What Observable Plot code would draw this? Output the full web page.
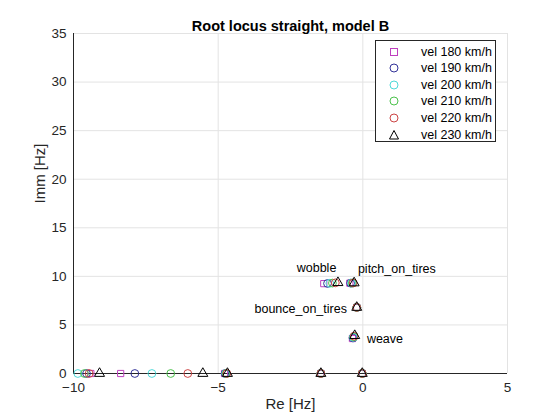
<!DOCTYPE html>
<html>
<head>
<meta charset="utf-8">
<script src="https://cdn.jsdelivr.net/npm/d3@7"></script>
<script src="https://cdn.jsdelivr.net/npm/@observablehq/plot@0.6"></script>
<style>
  html, body { margin: 0; padding: 0; background: #fff; }
  #wrap { position: relative; width: 560px; height: 420px; font-family: "Liberation Sans", Arial, sans-serif; }
  #legend { position: absolute; left: 375px; top: 40px; width: 121px; height: 102px; border: 1px solid #262626; background: #fff; box-sizing: border-box; }
  #legend .row { position: absolute; left: 0; height: 17px; display: flex; align-items: center; font-size: 12.5px; color: #000; }
  #legend svg { margin-left: 12px; margin-right: 21px; }
</style>
</head>
<body>
<div id="wrap"><div id="legend"></div></div>
<script>
// ---- data ----
const velocities = [180, 190, 200, 210, 220, 230];
const legendLabels = ["vel 180 km/h", "vel 190 km/h", "vel 200 km/h", "vel 210 km/h", "vel 220 km/h", "vel 230 km/h"];
// real-axis roots (Im = 0)
const realRootA = [-9.40, -9.55, -9.85, -9.62, -9.46, -9.10];
const realRootB = [-8.37, -7.88, -7.29, -6.64, -6.05, -5.53];
const realRootC = [-4.78, -4.76, -4.74, -4.72, -4.70, -4.68];
const realRootD = [-1.45, -1.45, -1.45, -1.45, -1.45, -1.45];
const realRootE = [-0.02, -0.02, -0.02, -0.02, -0.02, -0.02];
// complex roots
const wobbleRe = [-1.35, -1.22, -1.14, -1.05, -0.95, -0.86];
const wobbleIm = [9.25, 9.27, 9.29, 9.31, 9.33, 9.35];
const pitchRe = [-0.45, -0.42, -0.39, -0.36, -0.33, -0.30];
const pitchIm = [9.30, 9.30, 9.31, 9.31, 9.32, 9.32];
const bounceRe = [-0.21, -0.21, -0.21, -0.21, -0.21, -0.21];
const bounceIm = [6.80, 6.80, 6.80, 6.80, 6.80, 6.80];
const weaveRe = [-0.36, -0.34, -0.33, -0.31, -0.30, -0.28];
const weaveIm = [3.60, 3.66, 3.72, 3.78, 3.84, 3.90];
// mode annotations
const modeNames = ["wobble", "pitch_on_tires", "bounce_on_tires", "weave"];
const modeRe = [-1.6, -0.17, -0.55, 0.14];
const modeIm = [10.9, 10.8, 6.6, 3.6];
const xTicks = [-10, -5, 0, 5];
const yTicks = [0, 5, 10, 15, 20, 25, 30, 35];

// ---- styles ----
const colors = ["#bf40bf", "#333399", "#4dd9d9", "#4cc24c", "#cc4444", "#000000"];
const symbols = ["square", "circle", "circle", "circle", "circle", "triangle"];

// ---- build table ----
const pts = [];
velocities.forEach((v, i) => {
  const add = (re, im) => pts.push({vel: v, idx: i, re, im});
  add(realRootA[i], 0);
  add(realRootB[i], 0);
  add(realRootC[i], 0);
  add(realRootD[i], 0);
  add(realRootE[i], 0);
  add(wobbleRe[i], wobbleIm[i]);
  add(pitchRe[i], pitchIm[i]);
  add(bounceRe[i], bounceIm[i]);
  add(weaveRe[i], weaveIm[i]);
});
const modes = modeNames.map((n, i) => ({name: n, re: modeRe[i], im: modeIm[i]}));

const dotMarks = velocities.map((v, i) =>
  Plot.dot(pts.filter(d => d.idx === i), {
    x: "re", y: "im", symbol: () => symbols[i], stroke: colors[i],
    r: symbols[i] === "square" ? 3.5 : symbols[i] === "triangle" ? 3.7 : 3.9,
    strokeWidth: 1, fill: "none"
  })
);

const chart = Plot.plot({
  width: 560,
  height: 420,
  marginLeft: 73,
  marginRight: 53,
  marginTop: 33,
  marginBottom: 47,
  style: {fontFamily: "'Liberation Sans', Arial, sans-serif", fontSize: "13px", color: "#262626", background: "#fff"},
  symbol: {type: "identity"},
  x: {domain: [-10, 5]},
  y: {domain: [0, 35]},
  marks: [
    Plot.gridX(xTicks.slice(1), {stroke: "#e3e3e3", strokeOpacity: 1}),
    Plot.gridY(yTicks.slice(1), {stroke: "#e3e3e3", strokeOpacity: 1}),
    Plot.ruleY([0], {stroke: "#262626", strokeWidth: 1}),
    Plot.ruleX([-10], {stroke: "#262626", strokeWidth: 1}),
    Plot.axisX(xTicks, {tickSize: 0, tickPadding: 9, fontSize: 13.5, label: null, color: "#262626"}),
    Plot.axisY(yTicks, {tickSize: 0, tickPadding: 7, fontSize: 13.5, label: null, color: "#262626"}),
    Plot.text(["Re [Hz]"], {frameAnchor: "bottom", dy: 35, text: d => d, fontSize: 15, fill: "#262626"}),
    Plot.text(["Imm [Hz]"], {frameAnchor: "left", dx: -33, rotate: -90, text: d => d, fontSize: 15, fill: "#262626"}),
    ...dotMarks,
    Plot.text(modes.filter(d => d.name === "wobble"), {x: "re", y: "im", text: "name", textAnchor: "middle", fontSize: 12.5, fill: "#000"}),
    Plot.text(modes.filter(d => d.name === "pitch_on_tires" || d.name === "weave"), {x: "re", y: "im", text: "name", textAnchor: "start", fontSize: 12.5, fill: "#000"}),
    Plot.text(modes.filter(d => d.name === "bounce_on_tires"), {x: "re", y: "im", text: "name", textAnchor: "end", fontSize: 12.5, fill: "#000"}),
    Plot.text(["Root locus straight, model B"], {frameAnchor: "top", dy: -13, text: d => d, fontWeight: "bold", fontSize: 14.5, fill: "#000"})
  ]
});
document.getElementById("wrap").prepend(chart);

// ---- legend ----
const legend = document.getElementById("legend");
legendLabels.forEach((lab, i) => {
  const row = document.createElement("div");
  row.className = "row";
  row.style.top = (2 + i * 16.6) + "px";
  let shape;
  if (symbols[i] === "square") shape = `<rect x="2.5" y="2.5" width="7" height="7" fill="none" stroke="${colors[i]}"/>`;
  else if (symbols[i] === "circle") shape = `<circle cx="6" cy="6" r="4" fill="none" stroke="${colors[i]}"/>`;
  else shape = `<path d="M6,1.5L10.5,10H1.5Z" fill="none" stroke="${colors[i]}"/>`;
  row.innerHTML = `<svg width="12" height="12">${shape}</svg><span>${lab}</span>`;
  legend.appendChild(row);
});
</script>
</body>
</html>
